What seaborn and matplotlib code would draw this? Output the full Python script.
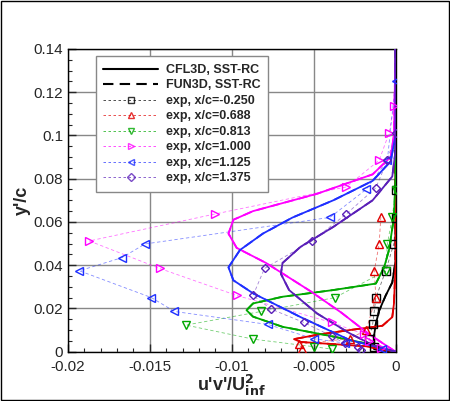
import numpy as np
import pandas as pd
import matplotlib
matplotlib.use("Agg")
import matplotlib.pyplot as plt
import seaborn as sns
from matplotlib.lines import Line2D
from matplotlib.ticker import MultipleLocator

sns.set_style("white")
plt.rcParams["font.family"] = ["Liberation Sans", "DejaVu Sans"]

# stations and colours
stations = ["-0.250", "0.688", "0.813", "1.000", "1.125", "1.375"]
colors = ["#000000", "#e00000", "#00a800", "#ff00ff", "#1f2fff", "#5a1fb8"]
markers = ["s", "^", "v", ">", "<", "D"]

# experimental data (u'v'/Uinf^2, y'/c)
exp_x = {
    "-0.250": [0.0, 0.0, -0.0001, -0.0006, -0.0012, -0.0013, -0.0014, -0.0016, -0.0013],
    "0.688": [-0.0009, -0.0010, -0.0013, -0.0012, -0.0018, -0.0028, -0.0059, -0.0057],
    "0.813": [0.0, -0.0002, -0.0005, -0.0006, -0.0037, -0.0082, -0.0128, -0.0087, -0.0050, -0.0039],
    "1.000": [-0.0001, -0.0004, -0.0010, -0.0030, -0.0110, -0.0187, -0.0144, -0.0097, -0.0039, -0.0019, -0.0016, -0.0009],
    "1.125": [0.0, -0.0005, -0.0018, -0.0040, -0.0153, -0.0167, -0.0193, -0.0149, -0.0135, -0.0078, -0.0050, -0.0031, -0.0008],
    "1.375": [0.0, -0.0005, -0.0012, -0.0030, -0.0051, -0.0080, -0.0087, -0.0076, -0.0056, -0.0039, -0.0031, -0.0023, -0.0021],
}
exp_y = {
    "-0.250": [0.0746, 0.0620, 0.0500, 0.0374, 0.0250, 0.0186, 0.0126, 0.0060, 0.0023],
    "0.688": [0.0623, 0.0498, 0.0374, 0.0250, 0.0100, 0.0060, 0.0036, 0.0012],
    "0.813": [0.0746, 0.0621, 0.0498, 0.0374, 0.0250, 0.0186, 0.0123, 0.0058, 0.0023, 0.0012],
    "1.000": [0.1137, 0.1010, 0.0885, 0.0762, 0.0637, 0.0512, 0.0385, 0.0260, 0.0135, 0.0080, 0.0050, 0.0015],
    "1.125": [0.1250, 0.0885, 0.0750, 0.0621, 0.0498, 0.0435, 0.0374, 0.0250, 0.0186, 0.0126, 0.0060, 0.0040, 0.0012],
    "1.375": [0.1010, 0.0885, 0.0758, 0.0637, 0.0512, 0.0385, 0.0260, 0.0197, 0.0135, 0.0072, 0.0038, 0.0020, 0.0008],
}

# CFD profiles (CFL3D solid, FUN3D dashed - nearly identical)
cfd_x = {
    "-0.250": [0.0, 0.0, -0.0002, -0.0006, -0.0010, -0.0012, -0.0013, -0.0013, -0.0013, -0.0008, 0.0],
    "0.688": [0.0, 0.0, -0.0001, -0.0002, -0.0008, -0.0028, -0.0048, -0.0062, -0.0058, -0.0040, -0.0018, -0.0010, 0.0],
    "0.813": [0.0, 0.0, -0.0001, -0.0004, -0.0007, -0.0012, -0.0038, -0.0069, -0.0087, -0.0091, -0.0087, -0.0069, -0.0038, -0.0018, 0.0],
    "1.000": [0.0, -0.0001, -0.0003, -0.0014, -0.0048, -0.0087, -0.0099, -0.0102, -0.0097, -0.0079, -0.0052, -0.0033, -0.0016, 0.0],
    "1.125": [0.0, 0.0, -0.0003, -0.0014, -0.0038, -0.0063, -0.0081, -0.0095, -0.0102, -0.0099, -0.0087, -0.0058, -0.0028, 0.0],
    "1.375": [0.0, 0.0, -0.0002, -0.0014, -0.0038, -0.0058, -0.0069, -0.0070, -0.0065, -0.0048, -0.0028, -0.0012, 0.0],
}
cfd_y = {
    "-0.250": [0.14, 0.042, 0.032, 0.026, 0.019, 0.013, 0.008, 0.003, 0.0012, 0.0005, 0.0],
    "0.688": [0.14, 0.040, 0.022, 0.016, 0.012, 0.0100, 0.0078, 0.0058, 0.0045, 0.0036, 0.0025, 0.0012, 0.0],
    "0.813": [0.14, 0.080, 0.062, 0.047, 0.039, 0.0315, 0.0285, 0.0254, 0.0223, 0.0192, 0.0162, 0.0115, 0.0070, 0.0038, 0.0],
    "1.000": [0.14, 0.100, 0.090, 0.082, 0.073, 0.065, 0.061, 0.0546, 0.048, 0.041, 0.028, 0.018, 0.008, 0.0],
    "1.125": [0.14, 0.100, 0.088, 0.079, 0.070, 0.062, 0.0546, 0.047, 0.039, 0.033, 0.027, 0.016, 0.0054, 0.0],
    "1.375": [0.14, 0.093, 0.081, 0.070, 0.0577, 0.0485, 0.041, 0.036, 0.0285, 0.0177, 0.0085, 0.0023, 0.0],
}

fig = plt.figure(figsize=(4.5, 4.01), dpi=100)
ax = fig.add_axes([0.151, 0.123, 0.728, 0.755])

for st, c, m in zip(stations, colors, markers):
    d = pd.DataFrame({"uv": cfd_x[st], "y": cfd_y[st]})
    sns.lineplot(data=d, x="uv", y="y", sort=False, estimator=None, ax=ax,
                 color=c, lw=1.3, linestyle=(0, (5, 3)), zorder=3)
    sns.lineplot(data=d, x="uv", y="y", sort=False, estimator=None, ax=ax,
                 color=c, lw=1.3, zorder=4)
    e = pd.DataFrame({"uv": exp_x[st], "y": exp_y[st]})
    sns.lineplot(data=e, x="uv", y="y", sort=False, estimator=None, ax=ax,
                 color=c, lw=0.6, alpha=0.55, linestyle=(0, (4, 3)), zorder=2)
    ms = 4.5 if m == "D" else 5.5
    sns.lineplot(data=e, x="uv", y="y", sort=False, estimator=None, ax=ax,
                 color=c, lw=0, marker=m, markersize=ms, markerfacecolor="none",
                 markeredgecolor=c, markeredgewidth=1.0, zorder=5)

ax.set_xlim(-0.02, 0)
ax.set_ylim(0, 0.14)
ax.xaxis.set_minor_locator(MultipleLocator(0.001))
ax.yaxis.set_minor_locator(MultipleLocator(0.005))
ax.set_xticks([-0.02, -0.015, -0.01, -0.005, 0])
ax.set_xticklabels(["-0.02", "-0.015", "-0.01", "-0.005", "0"])
ax.set_yticks([0, 0.02, 0.04, 0.06, 0.08, 0.1, 0.12, 0.14])
ax.set_yticklabels(["0", "0.02", "0.04", "0.06", "0.08", "0.1", "0.12", "0.14"])
ax.tick_params(which="major", direction="in", length=6, width=1, labelsize=11,
               bottom=True, left=True, top=False, right=False)
ax.tick_params(axis="x", which="major", pad=6)
ax.tick_params(which="minor", direction="in", length=3, width=0.8,
               bottom=True, left=True, top=False, right=False)
ax.grid(True, which="major", color="#888888", lw=1)
for s in ax.spines.values():
    s.set_color("black")
    s.set_linewidth(1)

ax.set_xlabel("u'v'/U$_{\\mathbf{inf}}^{\\mathbf{2}}$", fontsize=13, fontweight="bold", labelpad=-1)
ax.set_ylabel("y'/c", fontsize=13, fontweight="bold", labelpad=2)

handles = [Line2D([], [], color="black", lw=1.5),
           Line2D([], [], color="black", lw=1.5, linestyle=(0, (5, 3)))]
labels = ["CFL3D, SST-RC", "FUN3D, SST-RC"]
for st, c, m in zip(stations, colors, markers):
    handles.append(Line2D([], [], color=c, lw=0.6, alpha=0.8, linestyle=(0, (3, 3)), marker=m,
                          markersize=4.5, markerfacecolor="none", markeredgecolor=c))
    labels.append(f"exp, x/c={st}")
leg = ax.legend(handles, labels, loc="upper left", bbox_to_anchor=(0.085, 0.975),
                borderaxespad=0,
                prop={"weight": "bold", "size": 9}, frameon=True, fancybox=False,
                edgecolor="#888888", framealpha=1, handlelength=4.4,
                borderpad=0.6, labelspacing=0.28, handletextpad=0.6)
leg.get_frame().set_linewidth(1)

fig.patches.append(plt.Rectangle((0.002, 0.002), 0.996, 0.996, transform=fig.transFigure,
                                 fill=False, edgecolor="black", lw=1))

fig.savefig("out.png", dpi=100)
